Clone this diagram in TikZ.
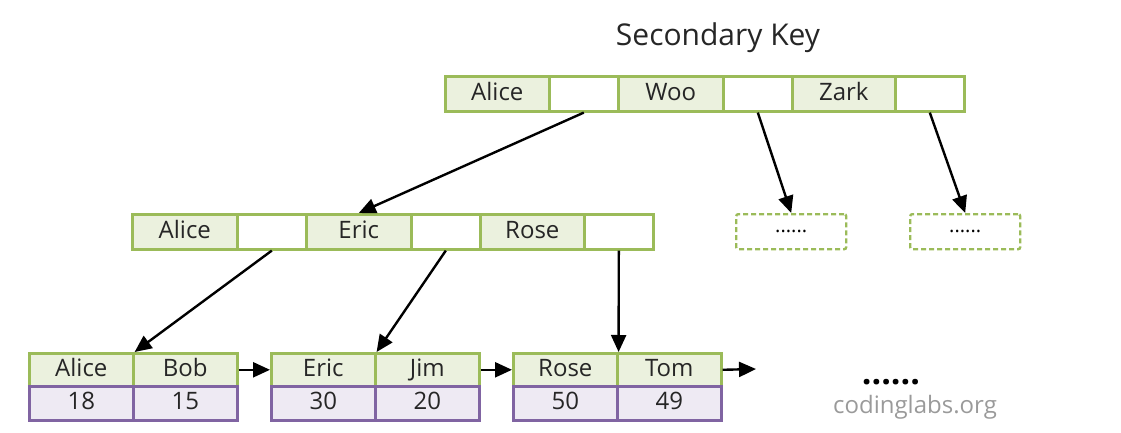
\documentclass[tikz,border=0pt]{standalone}
\usepackage{fontspec}
\setmainfont{Open Sans}
\usetikzlibrary{arrows.meta}
\definecolor{gfill}{HTML}{EBF1DE}
\definecolor{gline}{HTML}{9BBB59}
\definecolor{pfill}{HTML}{EEEAF3}
\definecolor{pline}{HTML}{8064A2}
\definecolor{wm}{HTML}{9A9A9A}
\tikzset{
  cell/.style={draw, line width=2.6pt, inner sep=0pt, anchor=north west,
    minimum height=35pt, text height=17pt, text depth=4pt, font=\fontsize{24}{28}\selectfont, text=black!85},
  key/.style={cell, draw=gline, fill=gfill},
  ptr/.style={cell, draw=gline, fill=white},
  val/.style={cell, draw=pline, fill=pfill},
  more/.style={draw=gline, line width=2.4pt, dash pattern=on 5pt off 3pt, rounded corners=2pt,
    anchor=north west, minimum width=110pt, minimum height=35pt, inner sep=0pt,
    font=\fontsize{20}{22}\selectfont},
  arr/.style={line width=2.4pt, -{Triangle[length=17pt,width=15pt]}},
}
\begin{document}
\begin{tikzpicture}[x=1pt,y=-1pt]
\useasboundingbox (0,0) rectangle (1121,433);
\node[font=\fontsize{30}{34}\selectfont, text=black!85] (title) at (718,38) {Secondary Key};
% top node
\node[key, minimum width=104pt] (t1) at (444,75) {Alice};
\node[ptr, minimum width=69pt] (t2) at (548,75) {};
\node[key, minimum width=105pt] (t3) at (617,75) {Woo};
\node[ptr, minimum width=69pt] (t4) at (722,75) {};
\node[key, minimum width=103pt] (t5) at (791,75) {Zark};
\node[ptr, minimum width=69pt] (t6) at (894,75) {};
% middle node
\node[key, minimum width=105pt] (m1) at (131,213) {Alice};
\node[ptr, minimum width=69pt] (m2) at (236,213) {};
\node[key, minimum width=105pt] (m3) at (305,213) {Eric};
\node[ptr, minimum width=69pt] (m4) at (410,213) {};
\node[key, minimum width=104pt] (m5) at (479,213) {Rose};
\node[ptr, minimum width=69pt] (m6) at (583,213) {};
% dashed placeholders
\node[more] (d1) at (735,213) {......};
\node[more] (d2) at (909,213) {......};
% leaves
\node[key, minimum width=104pt, minimum height=33pt] (a1) at (28,352) {Alice};
\node[key, minimum width=104pt, minimum height=33pt] (a2) at (132,352) {Bob};
\node[val, minimum width=104pt, minimum height=34pt] (a3) at (28,385) {18};
\node[val, minimum width=104pt, minimum height=34pt] (a4) at (132,385) {15};
\node[key, minimum width=104pt, minimum height=33pt] (b1) at (270,352) {Eric};
\node[key, minimum width=104pt, minimum height=33pt] (b2) at (374,352) {Jim};
\node[val, minimum width=104pt, minimum height=34pt] (b3) at (270,385) {30};
\node[val, minimum width=104pt, minimum height=34pt] (b4) at (374,385) {20};
\node[key, minimum width=104pt, minimum height=33pt] (c1) at (512,352) {Rose};
\node[key, minimum width=104pt, minimum height=33pt] (c2) at (616,352) {Tom};
\node[val, minimum width=104pt, minimum height=34pt] (c3) at (512,385) {50};
\node[val, minimum width=104pt, minimum height=34pt] (c4) at (616,385) {49};
\coordinate (next) at (756,369);
\node[font=\fontsize{34}{36}\selectfont\bfseries] (dots) at (891,382) {......};
\node[font=\fontsize{24}{26}\selectfont, text=wm] (wmark) at (915,407) {codinglabs.org};
% arrows
\draw[arr] (t2.south) -- (m3.north);
\draw[arr] (t4.south) -- (d1.north);
\draw[arr] (t6.south) -- (d2.north);
\draw[arr] (m2.south) -- (a1.north east);
\draw[arr] (m4.south) -- (b1.north east);
\draw[arr] (m6.south) -- (c1.north east);
\draw[arr] (a2.east) -- (b1.west);
\draw[arr] (b2.east) -- (c1.west);
\draw[arr] (c2.east) -- (next);
\end{tikzpicture}
\end{document}
